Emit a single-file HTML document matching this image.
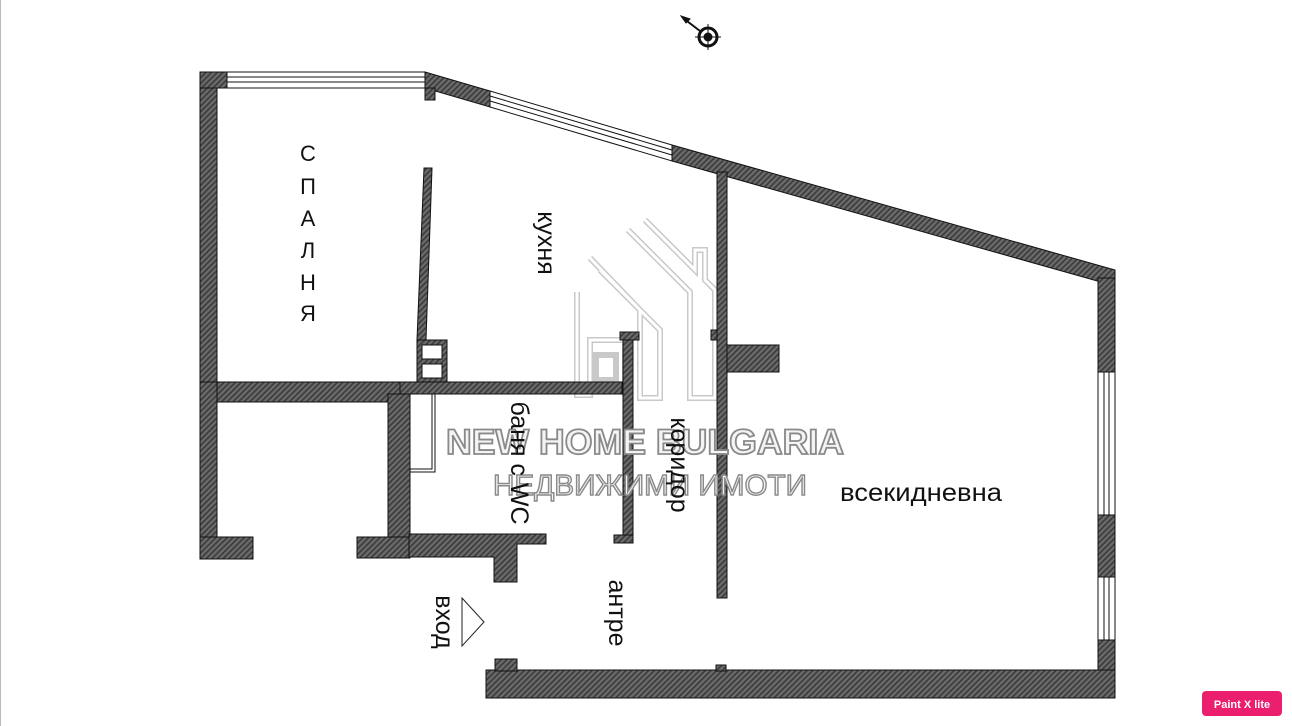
<!DOCTYPE html>
<html><head><meta charset="utf-8"><style>
html,body{margin:0;padding:0;background:#fff;}
svg{display:block}
text{font-family:"Liberation Sans","DejaVu Sans",sans-serif}
</style></head><body>
<svg width="1292" height="726" viewBox="0 0 1292 726" xmlns="http://www.w3.org/2000/svg">
<defs>
<pattern id="h" width="4" height="4" patternUnits="userSpaceOnUse" patternTransform="rotate(45)">
<rect width="4" height="4" fill="#6a6a6a"/><rect width="1.6" height="4" fill="#3a3a3a"/>
</pattern>
</defs>
<rect x="0" y="0" width="1" height="726" fill="#bbb"/>
<!-- watermark house -->
<g fill="none" stroke="#c4c4c4" stroke-width="6" opacity="0.9">
<polyline points="577,292 577,395 590,395 590,340 625,340 625,395"/>
<polyline points="590,258 640,310 640,398 660,398 660,330 600,270"/>
<polyline points="628,230 690,292 690,398 715,398 715,290 705,280 705,250 695,250 695,270 645,220"/>
<rect x="596" y="355" width="20" height="25"/>
</g>
<g fill="none" stroke="#fff" stroke-width="3">
<polyline points="577,292 577,395 590,395 590,340 625,340 625,395"/>
<polyline points="590,258 640,310 640,398 660,398 660,330 600,270"/>
<polyline points="628,230 690,292 690,398 715,398 715,290 705,280 705,250 695,250 695,270 645,220"/>
</g>
<g fill="url(#h)" stroke="#111" stroke-width="1">
<rect x="200" y="72" width="17" height="310"/>
<rect x="200" y="72" width="27" height="16"/>
<polygon points="425,72 490,91 490,107 425,88"/>
<polygon points="672,145 1115,270 1115,286 672,161"/>
<rect x="425" y="88" width="10" height="12"/>
<rect x="1098" y="278" width="17" height="94"/>
<rect x="1098" y="515" width="17" height="62"/>
<rect x="1098" y="640" width="17" height="58"/>
<rect x="486" y="670" width="629" height="28"/>
<rect x="495" y="659" width="22" height="12"/>
<rect x="716" y="665" width="10" height="6"/>
<rect x="717" y="172" width="10" height="426"/>
<rect x="727" y="345" width="52" height="27"/>
<rect x="711" y="330" width="6" height="10"/>
<rect x="623" y="332" width="10" height="211"/>
<rect x="620" y="332" width="19" height="8"/>
<rect x="614" y="535" width="19" height="8"/>
<polygon points="424,168 432,168 426,340 417,340"/>
<rect x="417" y="340" width="30" height="42"/>
<rect x="200" y="382" width="422" height="12"/>
<rect x="200" y="382" width="200" height="20"/>
<rect x="200" y="382" width="17" height="177"/>
<rect x="200" y="537" width="53" height="22"/>
<rect x="388" y="394" width="22" height="164"/>
<rect x="357" y="537" width="53" height="21"/>
<polygon points="409,534 546,534 546,544 517,544 517,582 494,582 494,557 409,557"/>
</g>
<rect x="422" y="345" width="20" height="14" fill="#fff" stroke="#111"/>
<rect x="422" y="364" width="20" height="14" fill="#fff" stroke="#111"/>
<g fill="#fff" stroke="#111" stroke-width="1">
<rect x="227" y="72" width="198" height="16"/>
<line x1="227" y1="77" x2="425" y2="77"/><line x1="227" y1="82" x2="425" y2="82"/>
<polygon points="490,91 672,145 672,161 490,107"/>
<line x1="490" y1="96" x2="672" y2="150"/><line x1="490" y1="101" x2="672" y2="155"/>
<rect x="1098" y="372" width="17" height="143"/>
<line x1="1104" y1="372" x2="1104" y2="515"/><line x1="1109" y1="372" x2="1109" y2="515"/>
<rect x="1098" y="577" width="17" height="63"/>
<line x1="1104" y1="577" x2="1104" y2="640"/><line x1="1109" y1="577" x2="1109" y2="640"/>
<rect x="410" y="394" width="25" height="78"/>
<rect x="410" y="394" width="22" height="75"/>
</g>
<text x="645" y="454" font-size="35" font-weight="bold" text-anchor="middle" fill="#f4f4f4" stroke="#8a8a8a" stroke-width="1.8" textLength="398" lengthAdjust="spacingAndGlyphs">NEW HOME BULGARIA</text>
<text x="650" y="495" font-size="29" text-anchor="middle" fill="#f4f4f4" stroke="#8a8a8a" stroke-width="1.4" textLength="314" lengthAdjust="spacingAndGlyphs">НЕДВИЖИМИ ИМОТИ</text>
<g font-size="22" fill="#111" text-anchor="middle">
<text x="308" y="161">С</text><text x="308" y="194">П</text><text x="308" y="226">А</text>
<text x="308" y="258">Л</text><text x="308" y="290">Н</text><text x="308" y="321">Я</text>
</g>
<g font-size="25" fill="#111" text-anchor="middle">
<text transform="translate(538,243) rotate(90)">кухня</text>
<text transform="translate(511,463) rotate(90)">баня с WC</text>
<text transform="translate(671,465) rotate(90)">коридор</text>
<text transform="translate(609,613) rotate(90)">антре</text>
<text transform="translate(436,622) rotate(90)">вход</text>
<text x="921" y="501" textLength="162" lengthAdjust="spacingAndGlyphs">всекидневна</text>
</g>
<polygon points="462,598 484,622 462,646" fill="#fff" stroke="#222"/>
<g stroke="#111" fill="none">
<circle cx="708" cy="37" r="9" stroke-width="3"/>
<circle cx="708" cy="37" r="4" fill="#111"/>
<line x1="683" y1="18" x2="700" y2="31" stroke-width="2"/>
<polygon points="681,16 690,19 686,23" fill="#111"/>
<line x1="708" y1="24" x2="708" y2="50"/><line x1="695" y1="37" x2="721" y2="37"/>
</g>
<rect x="1202" y="691" width="80" height="25" rx="4" fill="#ec1e6e"/>
<text x="1242" y="708" font-size="11" font-weight="bold" fill="#fff" text-anchor="middle">Paint X lite</text>
</svg>
</body></html>
